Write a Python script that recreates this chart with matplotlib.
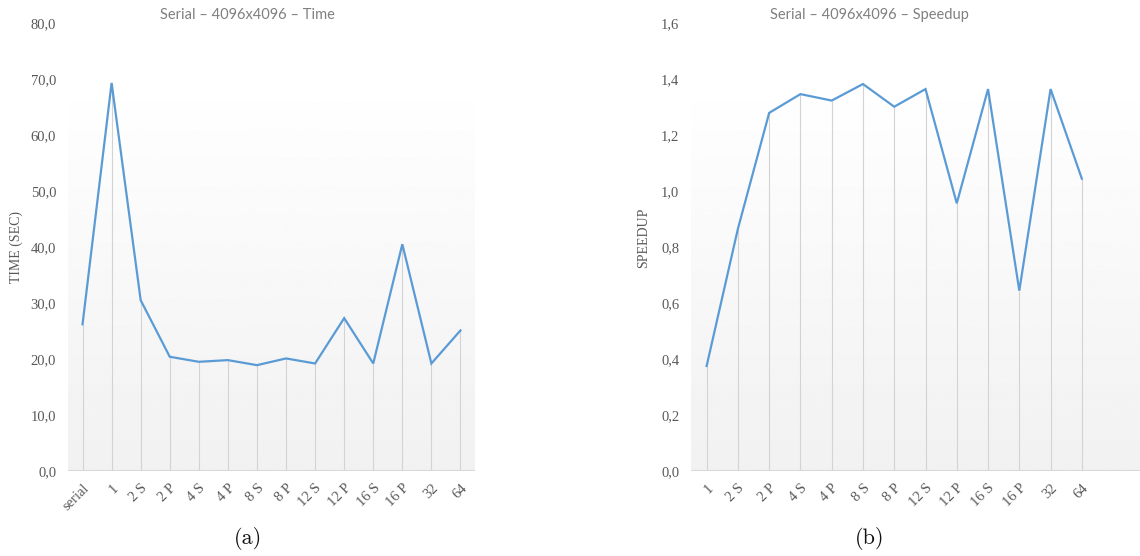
import numpy as np
import matplotlib
matplotlib.use("Agg")
import matplotlib.pyplot as plt
from matplotlib.ticker import FuncFormatter, MultipleLocator

# Execution time (seconds) per configuration
time_labels = ["serial", "1", "2 S", "2 P", "4 S", "4 P", "8 S", "8 P",
               "12 S", "12 P", "16 S", "16 P", "32", "64"]
time_values = [26.2, 69.3, 30.5, 20.4, 19.5, 19.8, 18.9, 20.1,
               19.2, 27.3, 19.2, 40.5, 19.2, 25.1]

# Speedup relative to the serial run
speedup_labels = ["1", "2 S", "2 P", "4 S", "4 P", "8 S", "8 P",
                  "12 S", "12 P", "16 S", "16 P", "32", "64"]
speedup_values = [0.375, 0.865, 1.279, 1.346, 1.323, 1.382, 1.301,
                  1.364, 0.956, 1.364, 0.644, 1.364, 1.044]

LINE = "#5b9bd5"
TICK = "#595959"
TITLE = "#808080"
SERIF = ["Liberation Serif", "DejaVu Serif"]

W, H = 1140, 556
fig = plt.figure(figsize=(W / 100, H / 100), dpi=100)


def px_axes(x0, x1, y_top, y_bot):
    return fig.add_axes([x0 / W, 1 - y_bot / H, (x1 - x0) / W, (y_bot - y_top) / H])


def comma(decimals):
    return FuncFormatter(lambda v, _: f"{v:.{decimals}f}".replace(".", ","))


def style(ax, labels, values, ymax, ystep, dec, xright, grad_top):
    n = len(labels)
    x = np.arange(n)
    ax.set_xlim(-0.5, xright)
    ax.set_ylim(0, ymax)
    # soft vertical gradient behind the plot area
    grad = np.linspace(0.945, 1.0, 256).reshape(-1, 1)
    ax.imshow(grad, cmap="gray", vmin=0, vmax=1, aspect="auto", origin="lower",
              extent=(0, 1, 0, grad_top), transform=ax.transAxes, zorder=0)
    # drop lines from each point to the baseline
    ax.vlines(x, 0, values, colors="#d3d3d3", linewidth=0.8, zorder=1)
    ax.plot(x, values, color=LINE, linewidth=1.6, zorder=3, solid_joinstyle="miter")
    ax.axhline(0, color="#d6d6d6", linewidth=2.0, zorder=2)
    for s in ax.spines.values():
        s.set_visible(False)
    ax.yaxis.set_major_locator(MultipleLocator(ystep))
    ax.yaxis.set_major_formatter(comma(dec))
    ax.set_xticks(x)
    ax.set_xticklabels(labels, rotation=45, ha="right", va="top",
                       rotation_mode="anchor")
    ax.tick_params(axis="both", length=0, colors=TICK, labelsize=10.5)
    ax.tick_params(axis="y", pad=8.5)
    ax.tick_params(axis="x", pad=7.5)
    for t in ax.get_xticklabels() + ax.get_yticklabels():
        t.set_family(SERIF)


# (a) execution time
ax1 = px_axes(68, 475, 23, 471)
style(ax1, time_labels, time_values, 80, 10, 1, len(time_labels) - 0.5, 0.888)
ax1.set_ylabel("TIME (SEC)", family=SERIF, color=TICK, fontsize=10)
ax1.yaxis.set_label_coords((23 - 68) / 407, 0.5)

# (b) speedup
ax2 = px_axes(691, 1140, 23, 471)
style(ax2, speedup_labels, speedup_values, 1.6, 0.2, 1, 13.86, 0.888)
ax2.set_ylabel("SPEEDUP", family=SERIF, color=TICK, fontsize=10)
ax2.yaxis.set_label_coords((650 - 691) / 449, 0.52)

fig.text(247 / W, 1 - 15 / H, "Serial – 4096x4096 – Time", ha="center", va="center",
         color=TITLE, fontsize=10.5, family=["Lato", "DejaVu Sans"])
fig.text(869 / W, 1 - 15 / H, "Serial – 4096x4096 – Speedup", ha="center", va="center",
         color=TITLE, fontsize=10.5, family=["Lato", "DejaVu Sans"])

fig.text(248 / W, 1 - 539 / H, "(a)", ha="center", va="center", fontsize=16,
         family=["cmr10", "DejaVu Serif"], color="#111111")
fig.text(870 / W, 1 - 539 / H, "(b)", ha="center", va="center", fontsize=16,
         family=["cmr10", "DejaVu Serif"], color="#111111")

fig.savefig("out.png", dpi=100, facecolor="white")
